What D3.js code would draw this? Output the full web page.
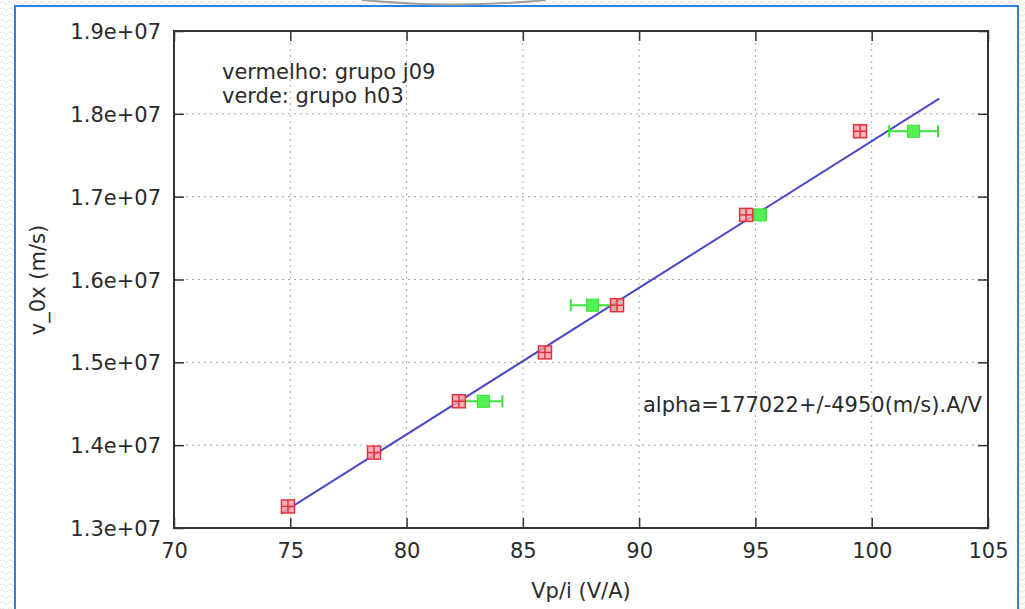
<!DOCTYPE html>
<html>
<head>
<meta charset="utf-8">
<script src="https://cdn.jsdelivr.net/npm/d3@7"></script>
<style>
  html, body { margin: 0; padding: 0; background: #fff; }
  svg { display: block; }
  text { font-family: "DejaVu Sans", sans-serif; fill: #2b2b2b; }
</style>
</head>
<body>
<svg id="chart" width="1025" height="609"></svg>
<script>
// Group j09 (red) measurements
const redX = [74.9, 78.6, 82.25, 85.95, 89.05, 94.6, 99.5];
const redY = [1.326e7, 1.391e7, 1.453e7, 1.512e7, 1.569e7, 1.678e7, 1.779e7];

// Group h03 (green) measurements with horizontal uncertainty
const greenX  = [83.3, 88.0, 95.2, 101.8];
const greenY  = [1.453e7, 1.569e7, 1.678e7, 1.779e7];
const greenDX = [0.82, 0.94, 0.25, 1.05];

// Linear fit v = alpha * (Vp/i) + b
const alpha = 177022;
const intercept = -32000;
const fitRange = [74.6, 102.9];

const xTicks = [70, 75, 80, 85, 90, 95, 100, 105];
const yTicks = [1.3e7, 1.4e7, 1.5e7, 1.6e7, 1.7e7, 1.8e7, 1.9e7];

const svg = d3.select("#chart");
const W = 1025, H = 609;

// Page background with a faint wavy texture and a blue frame
const defs = svg.append("defs");
const pat = defs.append("pattern").attr("id", "wave")
  .attr("width", 8).attr("height", 6).attr("patternUnits", "userSpaceOnUse");
pat.append("path").attr("d", "M0,3 Q2,0 4,3 T8,3")
  .attr("fill", "none").attr("stroke", "#e2e2e2").attr("stroke-width", 1);
svg.append("rect").attr("width", W).attr("height", H).attr("fill", "#fff");
svg.append("rect").attr("width", W).attr("height", H).attr("fill", "url(#wave)");
svg.append("rect").attr("x", 15).attr("y", 6).attr("width", 1003).attr("height", H)
  .attr("fill", "#fff").attr("stroke", "#2f7fe0").attr("stroke-width", 2);
svg.append("path")
  .attr("d", "M362,0 Q455,9 546,0")
  .attr("fill", "#fff").attr("stroke", "#a0a0a0").attr("stroke-width", 2);

const pLeft = 174, pRight = 988, pTop = 31, pBottom = 528;
const x = d3.scaleLinear().domain([70, 105]).range([pLeft, pRight]);
const y = d3.scaleLinear().domain([1.3e7, 1.9e7]).range([pBottom, pTop]);

// Dotted grid
const grid = svg.append("g").attr("stroke", "#a8a8a8").attr("stroke-width", 1)
  .attr("stroke-dasharray", "2,4");
xTicks.slice(1, -1).forEach(t => grid.append("line")
  .attr("x1", x(t)).attr("x2", x(t)).attr("y1", pTop).attr("y2", pBottom));
yTicks.slice(1, -1).forEach(t => grid.append("line")
  .attr("x1", pLeft).attr("x2", pRight).attr("y1", y(t)).attr("y2", y(t)));

// Axes with inward, mirrored ticks
const fmt = d => (d / 1e7).toFixed(1) + "e+07";
const tickLen = 10;
const axB = svg.append("g").attr("transform", `translate(0,${pBottom})`)
  .call(d3.axisBottom(x).tickValues(xTicks).tickSizeInner(-tickLen).tickSizeOuter(0).tickPadding(15));
const axT = svg.append("g").attr("transform", `translate(0,${pTop})`)
  .call(d3.axisTop(x).tickValues(xTicks).tickSizeInner(-tickLen).tickSizeOuter(0).tickFormat(""));
const axL = svg.append("g").attr("transform", `translate(${pLeft},0)`)
  .call(d3.axisLeft(y).tickValues(yTicks).tickSizeInner(-tickLen).tickSizeOuter(0).tickPadding(13).tickFormat(fmt));
const axR = svg.append("g").attr("transform", `translate(${pRight},0)`)
  .call(d3.axisRight(y).tickValues(yTicks).tickSizeInner(-tickLen).tickSizeOuter(0).tickFormat(""));
[axB, axT, axL, axR].forEach(a => {
  a.select(".domain").remove();
  a.selectAll(".tick line").attr("stroke", "#333").attr("stroke-width", 1.5);
  a.selectAll(".tick text").attr("font-size", 21).attr("font-family", "DejaVu Sans, sans-serif").attr("fill", "#2b2b2b");
});
axL.selectAll(".tick text").attr("dy", "0.36em");

// Plot frame
svg.append("rect").attr("x", pLeft).attr("y", pTop)
  .attr("width", pRight - pLeft).attr("height", pBottom - pTop)
  .attr("fill", "none").attr("stroke", "#333").attr("stroke-width", 2);

// Fit line
svg.append("line")
  .attr("x1", x(fitRange[0])).attr("y1", y(alpha * fitRange[0] + intercept))
  .attr("x2", x(fitRange[1])).attr("y2", y(alpha * fitRange[1] + intercept))
  .attr("stroke", "#4848c8").attr("stroke-width", 2);

// Green points with horizontal error bars
const green = svg.append("g");
greenX.forEach((gx, i) => {
  const cx = x(gx), cy = y(greenY[i]);
  const x0 = x(gx - greenDX[i]), x1 = x(gx + greenDX[i]);
  green.append("line").attr("x1", x0).attr("x2", x1).attr("y1", cy).attr("y2", cy)
    .attr("stroke", "#3de33d").attr("stroke-width", 2);
  [x0, x1].forEach(xe => green.append("line").attr("x1", xe).attr("x2", xe)
    .attr("y1", cy - 6).attr("y2", cy + 6).attr("stroke", "#3de33d").attr("stroke-width", 2));
  green.append("rect").attr("x", cx - 6).attr("y", cy - 6).attr("width", 12).attr("height", 12)
    .attr("fill", "#55f055").attr("stroke", "#30e030").attr("stroke-width", 1);
});

// Red points: boxed crosses
const red = svg.append("g");
redX.forEach((rx, i) => {
  const cx = x(rx), cy = y(redY[i]);
  red.append("rect").attr("x", cx - 6.5).attr("y", cy - 6.5).attr("width", 13).attr("height", 13)
    .attr("fill", "#f7a0a8").attr("fill-opacity", 0.8).attr("stroke", "#e8303c").attr("stroke-width", 1.5);
  red.append("line").attr("x1", cx - 6.5).attr("x2", cx + 6.5).attr("y1", cy).attr("y2", cy)
    .attr("stroke", "#e8303c").attr("stroke-width", 1.5);
  red.append("line").attr("x1", cx).attr("x2", cx).attr("y1", cy - 6.5).attr("y2", cy + 6.5)
    .attr("stroke", "#e8303c").attr("stroke-width", 1.5);
});

// Annotations
svg.append("text").attr("x", 222).attr("y", 79).attr("font-size", 21).text("vermelho: grupo j09");
svg.append("text").attr("x", 222).attr("y", 103).attr("font-size", 21).text("verde: grupo h03");
svg.append("text").attr("x", 982).attr("y", 412).attr("font-size", 21).attr("text-anchor", "end")
  .text("alpha=177022+/-4950(m/s).A/V");

// Axis titles
svg.append("text").attr("x", 581).attr("y", 598).attr("font-size", 21).attr("text-anchor", "middle")
  .text("Vp/i (V/A)");
svg.append("text").attr("transform", "translate(45,280) rotate(-90)")
  .attr("font-size", 21).attr("text-anchor", "middle").text("v_0x (m/s)");
</script>
</body>
</html>
